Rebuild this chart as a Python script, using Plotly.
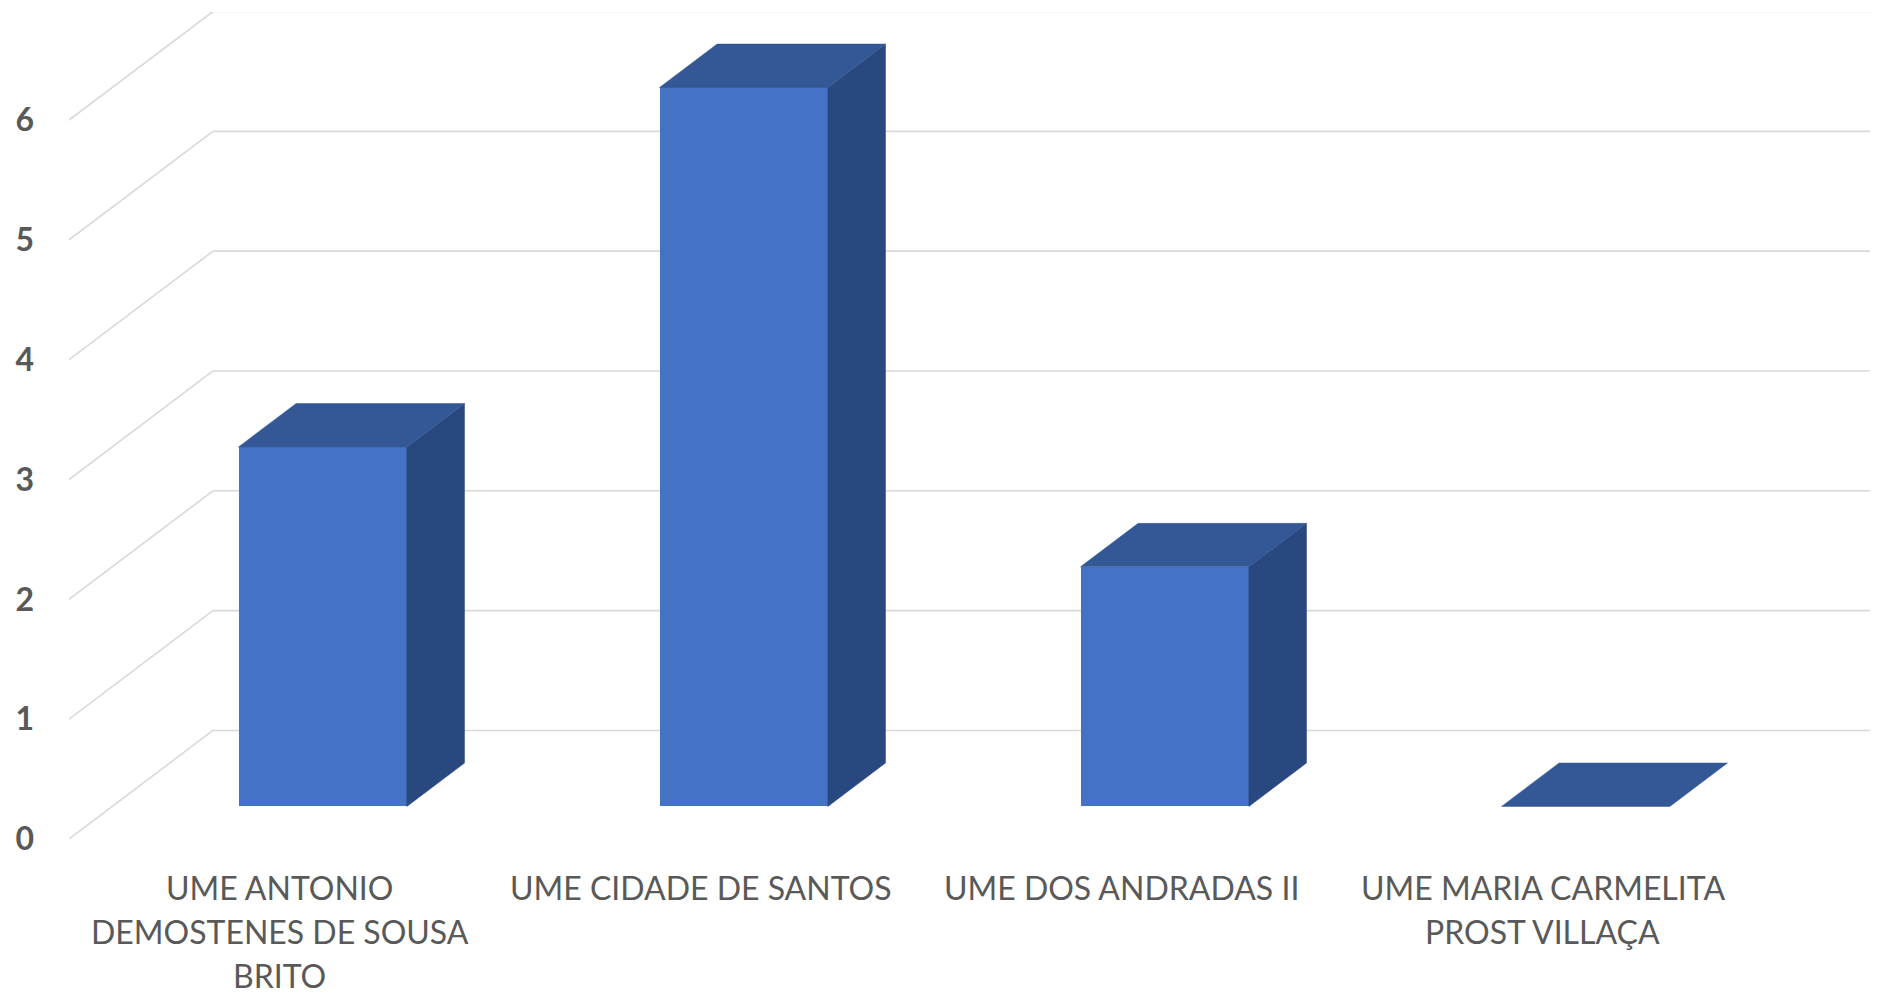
import plotly.graph_objects as go

# ---- data ----
categories = [
    "UME ANTONIO<br>DEMOSTENES DE SOUSA<br>BRITO",
    "UME CIDADE DE SANTOS",
    "UME DOS ANDRADAS II",
    "UME MARIA CARMELITA<br>PROST VILLAÇA",
]
values = [3, 6, 2, 0]
y_ticks = [0, 1, 2, 3, 4, 5, 6]

# ---- oblique 3D projection settings (style) ----
BODY = 8                  # browser default body margin
W, H = 1878 - BODY, 996 - BODY
ML, MT = 69 - BODY, 12 - BODY
Y0_PAGE = 839             # page y of front-plane zero
MB = H - (Y0_PAGE - BODY)
SLOT_PX = 421.0
UNIT_PX = 120.0
DX = 144.0 / SLOT_PX      # full depth offset in x units
DY = 108.7 / UNIT_PX      # full depth offset in y units
D0, D1 = 0.3, 0.7         # bar depth span
BW = 0.4                  # bar width (slot units)
xmax = (W - ML) / SLOT_PX
ytop = (H - MB - MT) / UNIT_PX + 0.01

FRONT = "#4472C4"
TOP = "#345896"
SIDE = "#29487F"
GRID = "#D9D9D9"
TXT = "#595959"
FONT = "Lato"

fig = go.Figure()

centers = [i + 0.5 for i in range(len(categories))]

# front faces as real bars
fig.add_trace(go.Bar(
    x=[c + D0 * DX for c in centers],
    y=values,
    base=[D0 * DY] * len(values),
    width=BW,
    marker=dict(color=FRONT, line=dict(width=0)),
    hoverinfo="skip",
    showlegend=False,
))

# top and side faces
for c, v in zip(centers, values):
    x0 = c - BW / 2 + D0 * DX
    x1 = c + BW / 2 + D0 * DX
    y0 = D0 * DY
    ddx = (D1 - D0) * DX
    ddy = (D1 - D0) * DY
    if v > 0:
        fig.add_trace(go.Scatter(
            x=[x1, x1, x1 + ddx, x1 + ddx, x1],
            y=[y0, y0 + v, y0 + v + ddy, y0 + ddy, y0],
            mode="lines", fill="toself", fillcolor=SIDE,
            line=dict(width=0.5, color=SIDE),
            hoverinfo="skip", showlegend=False,
        ))
    fig.add_trace(go.Scatter(
        x=[x0, x1, x1 + ddx, x0 + ddx, x0],
        y=[y0 + v, y0 + v, y0 + v + ddy, y0 + v + ddy, y0 + v],
        mode="lines", fill="toself", fillcolor=TOP,
        line=dict(width=0.5, color=TOP),
        hoverinfo="skip", showlegend=False,
    ))

# gridlines: left wall diagonals + back wall horizontals
shapes = []
for t in y_ticks:
    shapes.append(dict(type="line", xref="x", yref="y", layer="below",
                       x0=0, y0=t, x1=DX, y1=t + DY,
                       line=dict(color=GRID, width=1.6)))
    shapes.append(dict(type="line", xref="x", yref="y", layer="below",
                       x0=DX, y0=t + DY, x1=xmax, y1=t + DY,
                       line=dict(color=GRID, width=1.6)))

# category labels (one annotation per line for Excel-like line spacing)
annotations = []
LINE_PX = 44
FIRST_PX = 48
for c, label in zip(centers, categories):
    for k, line in enumerate(label.split("<br>")):
        annotations.append(dict(
            x=c, y=0, xref="x", yref="y", text=line, showarrow=False,
            xanchor="center", yanchor="middle",
            yshift=-(FIRST_PX + k * LINE_PX),
            font=dict(family=FONT, size=32, color=TXT),
        ))

fig.update_layout(
    width=W, height=H,
    margin=dict(l=ML, r=0, t=MT, b=MB, pad=0),
    paper_bgcolor="white", plot_bgcolor="white",
    shapes=shapes,
    annotations=annotations,
    bargap=0,
    xaxis=dict(
        range=[0, xmax], showgrid=False, zeroline=False, showline=False,
        tickmode="array", tickvals=centers,
        showticklabels=False, ticks="",
        fixedrange=True,
    ),
    yaxis=dict(
        range=[0, ytop], showgrid=False, zeroline=False, showline=False,
        tickmode="array", tickvals=y_ticks,
        ticktext=[f"<b>{t}</b>" for t in y_ticks],
        ticks="", ticklabelstandoff=34,
        tickfont=dict(family=FONT, size=32, color=TXT),
        fixedrange=True,
    ),
)

fig.write_html("out.html")
